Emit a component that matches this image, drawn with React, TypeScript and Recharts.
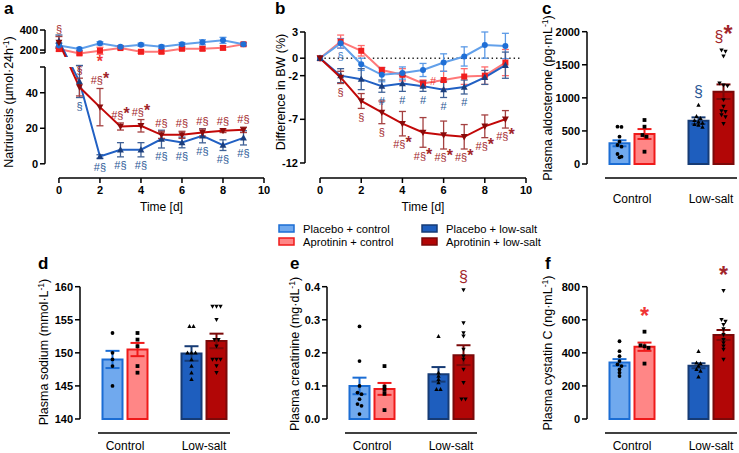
import React from 'react';
import { ComposedChart, Line, Bar, Cell, Scatter, XAxis, YAxis, ErrorBar, ReferenceLine } from 'recharts';

const FONT = '"Liberation Sans", Arial, Helvetica, sans-serif';

// ---------------- data ----------------
const days = [0, 1, 2, 3, 4, 5, 6, 7, 8, 9];
const dayTicks = [0, 2, 4, 6, 8, 10];

// a: natriuresis (µmol·24h-1)
const natPlaceboControl = [245, 210, 267, 233, 253, 233, 257, 277, 297, 258];
const natPlaceboControlSem = [25, 15, 15, 12, 15, 15, 18, 25, 30, 15];
const natAprotininControl = [210, 167, 193, 220, 183, 183, 213, 213, 222, 258];
const natAprotininControlSem = [20, 15, 35, 12, 15, 15, 15, 18, 20, 15];
const natPlaceboLowSalt = [290, 46.3, 4.1, 7.9, 7.9, 13.9, 12.0, 15.8, 10.5, 14.6];
const natPlaceboLowSaltSem = [60, 9, 1, 4, 4, 5, 3, 4, 3, 4];
const natAprotininLowSalt = [275, 43.2, 31.9, 21.0, 21.4, 16.3, 16.3, 17.6, 18.6, 19.1];
const natAprotininLowSaltSem = [60, 5, 10.5, 2, 3.5, 2, 2, 2, 1, 1.5];
const natAnnAprotininControl = ['', '', '*', '', '', '', '', '', '', ''];
const natAnnPlaceboLowSalt = ['', '§', '#§', '#§', '#§', '#§', '#§', '#§', '#§', '#§'];
const natAnnAprotininLowSalt = ['§', '§', '#§*', '#§*', '#§*', '#§', '#§', '#§', '#§', '#§'];

// b: difference in body weight (%)
const bwPlaceboControl = [0, 1.7, -0.7, -1.9, -1.7, -1.35, -0.5, 0.2, 1.5, 1.4];
const bwPlaceboControlSem = [0, 0.55, 0.7, 0.8, 0.7, 0.75, 1.0, 1.1, 1.5, 1.45];
const bwAprotininControl = [0, 1.9, 0.85, -1.35, -1.9, -2.9, -2.5, -2.1, -2.0, -0.5];
const bwAprotininControlSem = [0, 0.75, 0.6, 0.3, 0.7, 0.4, 1.0, 0.9, 1.0, 1.5];
const bwPlaceboLowSalt = [0, -2.0, -2.4, -3.2, -2.9, -3.2, -3.6, -3.3, -2.2, -0.8];
const bwPlaceboLowSaltSem = [0, 0.8, 1.2, 0.7, 0.9, 0.6, 0.9, 0.8, 0.8, 1.5];
const bwAprotininLowSalt = [0, -2.2, -4.9, -6.2, -7.5, -8.5, -8.8, -9.0, -7.8, -7.0];
const bwAprotininLowSaltSem = [0, 0.7, 0.85, 1.3, 1.4, 1.7, 1.6, 1.4, 1.3, 1.0];
const bwAnnPlaceboControl = ['', '§', '', '', '', '', '', '', '', ''];
const bwAnnAprotininControl = ['', '', '', '', '', '#', '', '', '', ''];
const bwAnnPlaceboLowSalt = ['', '', '', '#', '#', '#', '#', '#', '', ''];
const bwAnnAprotininLowSalt = ['', '§', '§', '§', '#§*', '#§*', '#§*', '#§*', '#§*', '#§*'];
const bwTicks = [3, 0, -2, -7, -12];

// bar panels: [Control, Low-salt]
const GROUPS = ['Control', 'Low-salt'];

const aldoPlacebo = [313, 655];
const aldoPlaceboSem = [45, 50];
const aldoAprotinin = [453, 1093];
const aldoAprotininSem = [75, 110];
const aldoPtsPC = [565, 560, 413, 337, 287, 262, 151, 111, 101];
const aldoPtsAC = [665, 564, 438, 413, 186];
const aldoPtsPL = [890, 720, 690, 660, 640, 620, 600, 590, 560];
const aldoPtsAL = [1720, 1700, 1630, 1220, 1190, 1180, 970, 870, 800, 790, 740, 710, 610];
const aldoTicks = [0, 500, 1000, 1500, 2000];

const naPlacebo = [149.0, 149.9];
const naPlaceboSem = [1.3, 1.1];
const naAprotinin = [150.5, 151.8];
const naAprotininSem = [1.0, 1.1];
const naPtsPC = [153, 150, 149, 148, 145];
const naPtsAC = [153, 152, 151, 148, 147];
const naPtsPL = [154, 154, 150, 150, 150, 149, 148, 147, 146];
const naPtsAL = [157, 157, 157, 155, 152, 152, 151, 149, 149, 149, 148, 147];
const naTicks = [140, 145, 150, 155, 160];

const creaPlacebo = [0.10, 0.135];
const creaPlaceboSem = [0.025, 0.022];
const creaAprotinin = [0.091, 0.193];
const creaAprotininSem = [0.018, 0.03];
const creaPtsPC = [0.28, 0.175, 0.10, 0.08, 0.075, 0.06, 0.045, 0.04, 0.015];
const creaPtsAC = [0.16, 0.098, 0.088, 0.076, 0.027];
const creaPtsPL = [0.25, 0.14, 0.13, 0.12, 0.11, 0.09, 0.09];
const creaPtsAL = [0.39, 0.29, 0.26, 0.25, 0.21, 0.19, 0.18, 0.15, 0.11, 0.06, 0.06];
const creaTicks = [0, 0.1, 0.2, 0.3, 0.4];

const cysPlacebo = [342, 322];
const cysPlaceboSem = [20, 15];
const cysAprotinin = [437, 508];
const cysAprotininSem = [25, 30];
const cysPtsPC = [470, 410, 380, 350, 330, 320, 300, 280, 260];
const cysPtsAC = [528, 445, 440, 430, 335];
const cysPtsPL = [410, 340, 335, 320, 300, 290, 255];
const cysPtsAL = [775, 600, 590, 570, 545, 510, 480, 460, 440, 420, 360];
const cysTicks = [0, 200, 400, 600, 800];

// ---------------- styling ----------------
type Kind = 'circle' | 'square' | 'up' | 'down';
type SKey = 'pc' | 'ac' | 'pl' | 'al';
const COL: Record<SKey, { kind: Kind; fill: string; stroke: string; line: string; marker: string; err: string; ann: string; name: string }> = {
  pc: { kind: 'circle', fill: '#70a9ee', stroke: '#1b6dd4', line: '#62a0ea', marker: '#1f6fd6', err: '#5b9ae6', ann: '#3d78c4', name: 'Placebo + control' },
  ac: { kind: 'square', fill: '#ff8686', stroke: '#ef1a1a', line: '#ff7878', marker: '#f01e1e', err: '#ff6b6b', ann: '#f03535', name: 'Aprotinin + control' },
  pl: { kind: 'up', fill: '#1e5ebe', stroke: '#163b75', line: '#2160c3', marker: '#1b3e7d', err: '#3f6196', ann: '#2c5896', name: 'Placebo + low-salt' },
  al: { kind: 'down', fill: '#b20606', stroke: '#7b0909', line: '#c20808', marker: '#8a0b0b', err: '#a44040', ann: '#a1252a', name: 'Aprotinin + low-salt' },
};

const tickStyle = { fontSize: 11, fontWeight: 700, fill: '#000', fontFamily: FONT };
const axisTickLine = { stroke: '#000', strokeWidth: 1.5 };

function Marker({ kind, cx, cy, size, fill }: { kind: Kind; cx: number; cy: number; size: number; fill: string }) {
  const h = size / 2;
  if (kind === 'circle') return <circle cx={cx} cy={cy} r={h} fill={fill} />;
  if (kind === 'square') return <rect x={cx - h} y={cy - h} width={size} height={size} fill={fill} />;
  if (kind === 'up')
    return <path d={`M${cx},${cy - h * 1.2}L${cx + h * 1.15},${cy + h * 0.9}L${cx - h * 1.15},${cy + h * 0.9}Z`} fill={fill} />;
  return <path d={`M${cx},${cy + h * 1.2}L${cx + h * 1.15},${cy - h * 0.9}L${cx - h * 1.15},${cy - h * 0.9}Z`} fill={fill} />;
}

const dotFn = (k: SKey, size: number) => (p: any) => {
  const { cx, cy, index } = p;
  if (cx == null || cy == null || Number.isNaN(cx) || Number.isNaN(cy)) return <g key={`e${index}`} />;
  return (
    <g key={`m${index}`}>
      <Marker kind={COL[k].kind} cx={cx} cy={cy} size={size} fill={COL[k].marker} />
    </g>
  );
};

type Place = 'above' | 'below' | 'right';

function AnnText({ p, place, color, fontSize, gap }: { p: any; place: Place; color: string; fontSize: number; gap: number }) {
  if (p == null || p.cx == null || p.cy == null) return <g />;
  const label: string = p.payload.label;
  let x = p.cx;
  let y = p.cy;
  if (place === 'above') y -= gap;
  else if (place === 'below') y += gap + fontSize * 0.75;
  else {
    x += 7;
    y += 1;
  }
  const star = label.includes('*');
  const base = label.replace('*', '');
  return (
    <text x={x} y={y} textAnchor={place === 'right' ? 'start' : 'middle'} fill={color} fontSize={fontSize} fontFamily={FONT}>
      {base}
      {star && (
        <tspan fontSize={fontSize * 1.45} fontWeight={700}>
          *
        </tspan>
      )}
    </text>
  );
}

// ---------------- line panels ----------------
type Ann = { day: number; y: number; label: string };
function buildAnn(labels: string[], vals: number[], sems: number[], place: Place, tf: (v: number) => number = (v) => v): Ann[] {
  return labels
    .map((l, i) => ({
      day: days[i],
      label: l,
      y: tf(place === 'above' ? vals[i] + sems[i] : place === 'below' ? vals[i] - sems[i] : vals[i]),
    }))
    .filter((a) => a.label !== '');
}

function seriesLines(keys: SKey[], yAxisId: string, size: number) {
  return keys.map((k) => (
    <Line
      key={k}
      yAxisId={yAxisId}
      dataKey={k}
      type="linear"
      stroke={COL[k].line}
      strokeWidth={2}
      dot={dotFn(k, size)}
      activeDot={false}
      isAnimationActive={false}
    >
      <ErrorBar dataKey={`${k}E`} width={3.5} stroke={COL[k].err} strokeWidth={1.3} direction="y" />
    </Line>
  ));
}

function annScatter(id: string, data: Ann[], yAxisId: string, place: Place, color: string) {
  return (
    <Scatter
      key={id}
      data={data}
      dataKey="y"
      yAxisId={yAxisId}
      isAnimationActive={false}
      shape={(p: any) => <AnnText p={p} place={place} color={color} fontSize={11} gap={4} />}
    />
  );
}

// broken-axis transform for panel a
const toDisp = (v: number) => (v <= 100 ? v : 64 + (v - 200) * 0.0565);
const dispErr = (v: number, e: number) => (v <= 100 ? e : e * 0.0565);
const A_XMIN = -0.68;
const A_TOP: [number, number] = [60.1, 77];
const A_BOT: [number, number] = [-8, 54.5];

const aRows = days.map((d, i) => ({
  day: d,
  pc: toDisp(natPlaceboControl[i]),
  pcE: dispErr(natPlaceboControl[i], natPlaceboControlSem[i]),
  ac: toDisp(natAprotininControl[i]),
  acE: dispErr(natAprotininControl[i], natAprotininControlSem[i]),
  pl: toDisp(natPlaceboLowSalt[i]),
  plE: dispErr(natPlaceboLowSalt[i], natPlaceboLowSaltSem[i]),
  al: toDisp(natAprotininLowSalt[i]),
  alE: dispErr(natAprotininLowSalt[i], natAprotininLowSaltSem[i]),
}));

const aAnnAL = buildAnn(natAnnAprotininLowSalt, natAprotininLowSalt, natAprotininLowSaltSem, 'above', toDisp);
const aAnnPL = buildAnn(natAnnPlaceboLowSalt, natPlaceboLowSalt, natPlaceboLowSaltSem, 'below', toDisp);
const aAnnAC = buildAnn(natAnnAprotininControl, natAprotininControl, natAprotininControlSem, 'below', toDisp);
const inTop = (a: Ann) => a.y > A_TOP[0];

const topTickFmt = (v: number) => (Math.abs(v - toDisp(200)) < 0.01 ? '200' : Math.abs(v - toDisp(400)) < 0.01 ? '400' : '');
const botTickFmt = (v: number) => (v > 50 ? '' : String(v));

function PanelA() {
  return (
    <>
      <div style={{ position: 'absolute', left: 0, top: 0 }}>
        <ComposedChart width={280} height={72} data={aRows} margin={{ top: 27, right: 16, bottom: 15, left: 5 }}>
          <XAxis dataKey="day" type="number" domain={[A_XMIN, 10]} hide />
          <YAxis
            yAxisId="v"
            type="number"
            domain={A_TOP}
            ticks={[62.4, toDisp(200), toDisp(400)]}
            tickFormatter={topTickFmt}
            width={40}
            axisLine={false}
            tickLine={axisTickLine}
            tickSize={5}
            tickMargin={2}
            interval={0}
            tick={tickStyle}
          />
          <YAxis yAxisId="c" type="number" domain={A_TOP} hide width={0} allowDataOverflow />
          <ReferenceLine
            yAxisId="v"
            segment={[{ x: A_XMIN, y: 62.4 }, { x: A_XMIN, y: toDisp(400) }]}
            stroke="#000"
            strokeWidth={1.5}
            ifOverflow="visible"
          />
          {seriesLines(['ac', 'pc', 'pl', 'al'], 'c', 6)}
          {annScatter('al', aAnnAL.filter(inTop), 'v', 'above', COL.al.ann)}
          {annScatter('ac', aAnnAC.filter(inTop), 'v', 'below', COL.ac.ann)}
        </ComposedChart>
      </div>
      <div style={{ position: 'absolute', left: 0, top: 57 }}>
        <ComposedChart width={280} height={151} data={aRows} margin={{ top: 10, right: 16, bottom: 0, left: 5 }}>
          <XAxis
            dataKey="day"
            type="number"
            domain={[A_XMIN, 10]}
            ticks={dayTicks}
            axisLine={false}
            tickLine={axisTickLine}
            tickSize={5}
            tickMargin={3}
            interval={0}
            height={30}
            tick={tickStyle}
          />
          <YAxis
            yAxisId="v"
            type="number"
            domain={A_BOT}
            ticks={[0, 20, 40, 54.5]}
            tickFormatter={botTickFmt}
            width={40}
            axisLine={false}
            tickLine={axisTickLine}
            tickSize={5}
            tickMargin={2}
            interval={0}
            tick={tickStyle}
          />
          <YAxis yAxisId="c" type="number" domain={A_BOT} hide width={0} allowDataOverflow />
          <ReferenceLine yAxisId="v" segment={[{ x: A_XMIN, y: 0 }, { x: A_XMIN, y: 54.5 }]} stroke="#000" strokeWidth={1.5} ifOverflow="visible" />
          <ReferenceLine yAxisId="v" segment={[{ x: 0, y: A_BOT[0] }, { x: 10, y: A_BOT[0] }]} stroke="#000" strokeWidth={1.5} ifOverflow="visible" />
          {seriesLines(['pl', 'al'], 'c', 6)}
          {annScatter('al', aAnnAL.filter((a) => !inTop(a)), 'v', 'above', COL.al.ann)}
          {annScatter('pl', aAnnPL.filter((a) => !inTop(a)), 'v', 'below', COL.pl.ann)}
        </ComposedChart>
      </div>
    </>
  );
}

const B_XMIN = -0.73;
const B_DOM: [number, number] = [-13.72, 3];
const bRows = days.map((d, i) => ({
  day: d,
  pc: bwPlaceboControl[i],
  pcE: bwPlaceboControlSem[i],
  ac: bwAprotininControl[i],
  acE: bwAprotininControlSem[i],
  pl: bwPlaceboLowSalt[i],
  plE: bwPlaceboLowSaltSem[i],
  al: bwAprotininLowSalt[i],
  alE: bwAprotininLowSaltSem[i],
}));

function PanelB() {
  return (
    <div style={{ position: 'absolute', left: 250, top: 0 }}>
      <ComposedChart width={290} height={208} data={bRows} margin={{ top: 32, right: 14, bottom: 0, left: 15 }}>
        <XAxis
          dataKey="day"
          type="number"
          domain={[B_XMIN, 10]}
          ticks={dayTicks}
          axisLine={false}
          tickLine={axisTickLine}
          tickSize={5}
          tickMargin={3}
          interval={0}
          height={30}
          tick={tickStyle}
        />
        <YAxis
          yAxisId="v"
          type="number"
          domain={B_DOM}
          ticks={bwTicks}
          width={40}
          axisLine={false}
          tickLine={axisTickLine}
          tickSize={5}
          tickMargin={2}
          interval={0}
          tick={tickStyle}
        />
        <ReferenceLine yAxisId="v" segment={[{ x: B_XMIN, y: -12 }, { x: B_XMIN, y: 3 }]} stroke="#000" strokeWidth={1.5} ifOverflow="visible" />
        <ReferenceLine yAxisId="v" segment={[{ x: 0, y: B_DOM[0] }, { x: 10, y: B_DOM[0] }]} stroke="#000" strokeWidth={1.5} ifOverflow="visible" />
        <ReferenceLine yAxisId="v" segment={[{ x: 0, y: 0 }, { x: 9.8, y: 0 }]} stroke="#222" strokeWidth={1.4} strokeDasharray="1.4 3" ifOverflow="visible" />
        {seriesLines(['ac', 'pc', 'pl', 'al'], 'v', 6)}
        {annScatter('pc', buildAnn(bwAnnPlaceboControl, bwPlaceboControl, bwPlaceboControlSem, 'below'), 'v', 'below', COL.pc.ann)}
        {annScatter('ac', buildAnn(bwAnnAprotininControl, bwAprotininControl, bwAprotininControlSem, 'right'), 'v', 'right', COL.ac.ann)}
        {annScatter('pl', buildAnn(bwAnnPlaceboLowSalt, bwPlaceboLowSalt, bwPlaceboLowSaltSem, 'below'), 'v', 'below', COL.pl.ann)}
        {annScatter('al', buildAnn(bwAnnAprotininLowSalt, bwAprotininLowSalt, bwAprotininLowSaltSem, 'below'), 'v', 'below', COL.al.ann)}
      </ComposedChart>
    </div>
  );
}

// ---------------- bar panels ----------------
const BAND = 79;
const PADL = 5.5;
const PW = 2 * BAND + PADL;
const XMIN = 1 - (PADL + BAND / 2) / BAND;
const XMAX = XMIN + PW / BAND;
const OFF = 12.5 / BAND;
const STEP = 4 / BAND;
const SERIES_X: Record<SKey, number> = { pc: 1 - OFF, ac: 1 + OFF, pl: 2 - OFF, al: 2 + OFF };

function spread(values: number[], center: number, tol: number) {
  const sorted = [...values].sort((a, b) => b - a);
  const out: { x: number; y: number }[] = [];
  let i = 0;
  while (i < sorted.length) {
    let j = i;
    while (j + 1 < sorted.length && sorted[i] - sorted[j + 1] <= tol) j++;
    const n = j - i + 1;
    for (let k = 0; k < n; k++) out.push({ x: center + (k - (n - 1) / 2) * STEP, y: sorted[i + k] });
    i = j + 1;
  }
  return out;
}

type BarPanelProps = {
  left: number;
  top: number;
  domain: [number, number];
  ticks: number[];
  fmt: (v: number) => string;
  base: number;
  placebo: number[];
  placeboSem: number[];
  aprotinin: number[];
  aprotininSem: number[];
  pts: Record<SKey, number[]>;
  ann: Partial<Record<SKey, string>>;
  labelMargin: number;
};

function BarPanel(props: BarPanelProps) {
  const { left, top, domain, ticks, fmt, base, placebo, placeboSem, aprotinin, aprotininSem, pts, ann, labelMargin } = props;
  const rows = GROUPS.map((g, i) => ({
    name: g,
    placebo: [base, placebo[i]],
    aprotinin: [base, aprotinin[i]],
    pcE: i === 0 ? placeboSem[i] : undefined,
    plE: i === 1 ? placeboSem[i] : undefined,
    acE: i === 0 ? aprotininSem[i] : undefined,
    alE: i === 1 ? aprotininSem[i] : undefined,
  }));
  const tol = (domain[1] - domain[0]) * 0.02;
  const keys: SKey[] = ['pc', 'ac', 'pl', 'al'];
  const axisH = labelMargin + 17;
  return (
    <div style={{ position: 'absolute', left, top }}>
      <ComposedChart
        width={3 + 44 + PW}
        height={31.7 + 146.3 + axisH}
        data={rows}
        margin={{ top: 31.7, right: 0, bottom: 0, left: 3 }}
        barGap={5}
      >
        <XAxis
          xAxisId="cat"
          dataKey="name"
          type="category"
          padding={{ left: PADL, right: 0 }}
          axisLine={false}
          tickLine={false}
          tickSize={0}
          tickMargin={labelMargin}
          height={axisH}
          interval={0}
          tick={{ fontSize: 12, fill: '#000', fontFamily: FONT }}
        />
        <XAxis xAxisId="pts" dataKey="x" type="number" domain={[XMIN, XMAX]} hide height={0} />
        <YAxis
          type="number"
          domain={domain}
          ticks={ticks}
          tickFormatter={fmt}
          width={44}
          axisLine={false}
          tickLine={axisTickLine}
          tickSize={5}
          tickMargin={2}
          interval={0}
          tick={tickStyle}
        />
        <ReferenceLine
          xAxisId="pts"
          segment={[{ x: XMIN, y: base }, { x: XMIN, y: ticks[ticks.length - 1] }]}
          stroke="#000"
          strokeWidth={1.5}
          ifOverflow="visible"
        />
        <ReferenceLine
          xAxisId="pts"
          segment={[{ x: 1 - 27 / BAND, y: domain[0] }, { x: 2 + 26 / BAND, y: domain[0] }]}
          stroke="#000"
          strokeWidth={1.5}
          ifOverflow="visible"
        />
        <Bar xAxisId="cat" dataKey="placebo" barSize={20} strokeWidth={2} isAnimationActive={false}>
          {rows.map((_, i) => (
            <Cell key={i} fill={i === 0 ? COL.pc.fill : COL.pl.fill} stroke={i === 0 ? COL.pc.stroke : COL.pl.stroke} />
          ))}
          <ErrorBar dataKey="pcE" width={7} stroke={COL.pc.stroke} strokeWidth={2} />
          <ErrorBar dataKey="plE" width={7} stroke={COL.pl.stroke} strokeWidth={2} />
        </Bar>
        <Bar xAxisId="cat" dataKey="aprotinin" barSize={20} strokeWidth={2} isAnimationActive={false}>
          {rows.map((_, i) => (
            <Cell key={i} fill={i === 0 ? COL.ac.fill : COL.al.fill} stroke={i === 0 ? COL.ac.stroke : COL.al.stroke} />
          ))}
          <ErrorBar dataKey="acE" width={7} stroke={COL.ac.stroke} strokeWidth={2} />
          <ErrorBar dataKey="alE" width={7} stroke={COL.al.stroke} strokeWidth={2} />
        </Bar>
        {keys.map((k) => (
          <Scatter
            key={`p${k}`}
            xAxisId="pts"
            data={spread(pts[k], SERIES_X[k], tol)}
            dataKey="y"
            isAnimationActive={false}
            shape={(p: any) =>
              p.cx == null ? <g /> : <Marker kind={COL[k].kind} cx={p.cx} cy={p.cy} size={3.8} fill="#000" />
            }
          />
        ))}
        {keys
          .filter((k) => ann[k])
          .map((k) => (
            <Scatter
              key={`a${k}`}
              xAxisId="pts"
              data={[{ x: SERIES_X[k], y: Math.max(...pts[k]), label: ann[k] as string }]}
              dataKey="y"
              isAnimationActive={false}
              shape={(p: any) => <AnnText p={p} place="above" color={COL[k].ann} fontSize={16} gap={8} />}
            />
          ))}
      </ComposedChart>
    </div>
  );
}

// ---------------- overlay texts ----------------
function VLabel({ cx, cy, main, unit }: { cx: number; cy: number; main: string; unit?: string }) {
  const x = cx + 4.4;
  return (
    <text transform={`rotate(-90 ${x} ${cy})`} x={x} y={cy} textAnchor="middle" fontSize={12.5} fontFamily={FONT} fill="#000">
      {main}
      {unit !== undefined && (
        <>
          <tspan dy={-4.5} fontSize={8.5}>
            -1
          </tspan>
          <tspan dy={4.5}>)</tspan>
        </>
      )}
    </text>
  );
}

function Letter({ x, y, t }: { x: number; y: number; t: string }) {
  return (
    <text x={x} y={y} fontSize={17} fontWeight={700} fontFamily={FONT} fill="#000">
      {t}
    </text>
  );
}

function Overlay() {
  const legend: { k: SKey; x: number; y: number }[] = [
    { k: 'pc', x: 279, y: 228.5 },
    { k: 'ac', x: 279, y: 241.5 },
    { k: 'pl', x: 422, y: 228.5 },
    { k: 'al', x: 422, y: 241.5 },
  ];
  return (
    <svg width={739} height={453} style={{ position: 'absolute', left: 0, top: 0, pointerEvents: 'none' }}>
      <Letter x={4} y={14} t="a" />
      <Letter x={275} y={14} t="b" />
      <Letter x={542} y={14} t="c" />
      <Letter x={38} y={269} t="d" />
      <Letter x={290} y={269} t="e" />
      <Letter x={545} y={269} t="f" />
      <VLabel cx={9} cy={102} main="Natriuresis (µmol·24h" unit="-1" />
      <VLabel cx={281} cy={92} main="Difference in BW (%)" />
      <VLabel cx={548} cy={98} main="Plasma aldosterone (pg·mL" unit="-1" />
      <VLabel cx={44} cy={352} main="Plasma sodium (mmol·L" unit="-1" />
      <VLabel cx={295} cy={354} main="Plasma creatinine (mg·dL" unit="-1" />
      <VLabel cx={548} cy={353} main="Plasma cystatin C (ng·mL" unit="-1" />
      <text x={161.5} y={210.5} textAnchor="middle" fontSize={12} fontFamily={FONT} fill="#000">
        Time [d]
      </text>
      <text x={423} y={210.5} textAnchor="middle" fontSize={12} fontFamily={FONT} fill="#000">
        Time [d]
      </text>
      {legend.map((l) => (
        <g key={l.k}>
          <rect x={l.x} y={l.y - 3.5} width={15} height={7} fill={COL[l.k].fill} stroke={COL[l.k].stroke} strokeWidth={1.5} />
          <text x={l.x + 24} y={l.y + 4} fontSize={11.2} fontFamily={FONT} fill="#000">
            {COL[l.k].name}
          </text>
        </g>
      ))}
    </svg>
  );
}

export default function App() {
  return (
    <div
      style={{
        position: 'absolute',
        left: 0,
        top: 0,
        width: 739,
        height: 453,
        overflow: 'hidden',
        background: '#fff',
        fontFamily: FONT,
      }}
    >
      <PanelA />
      <PanelB />
      <BarPanel
        left={540}
        top={0}
        domain={[-211.6, 2000]}
        ticks={aldoTicks}
        fmt={(v) => String(v)}
        base={0}
        placebo={aldoPlacebo}
        placeboSem={aldoPlaceboSem}
        aprotinin={aldoAprotinin}
        aprotininSem={aldoAprotininSem}
        pts={{ pc: aldoPtsPC, ac: aldoPtsAC, pl: aldoPtsPL, al: aldoPtsAL }}
        ann={{ pl: '§', al: '§*' }}
        labelMargin={16}
      />
      <BarPanel
        left={33}
        top={255}
        domain={[137.88, 160]}
        ticks={naTicks}
        fmt={(v) => String(v)}
        base={140}
        placebo={naPlacebo}
        placeboSem={naPlaceboSem}
        aprotinin={naAprotinin}
        aprotininSem={naAprotininSem}
        pts={{ pc: naPtsPC, ac: naPtsAC, pl: naPtsPL, al: naPtsAL }}
        ann={{}}
        labelMargin={8}
      />
      <BarPanel
        left={280}
        top={255}
        domain={[-0.0423, 0.4]}
        ticks={creaTicks}
        fmt={(v) => v.toFixed(1)}
        base={0}
        placebo={creaPlacebo}
        placeboSem={creaPlaceboSem}
        aprotinin={creaAprotinin}
        aprotininSem={creaAprotininSem}
        pts={{ pc: creaPtsPC, ac: creaPtsAC, pl: creaPtsPL, al: creaPtsAL }}
        ann={{ al: '§' }}
        labelMargin={8}
      />
      <BarPanel
        left={540}
        top={255}
        domain={[-84.7, 800]}
        ticks={cysTicks}
        fmt={(v) => String(v)}
        base={0}
        placebo={cysPlacebo}
        placeboSem={cysPlaceboSem}
        aprotinin={cysAprotinin}
        aprotininSem={cysAprotininSem}
        pts={{ pc: cysPtsPC, ac: cysPtsAC, pl: cysPtsPL, al: cysPtsAL }}
        ann={{ ac: '*', al: '*' }}
        labelMargin={8}
      />
      <Overlay />
    </div>
  );
}
